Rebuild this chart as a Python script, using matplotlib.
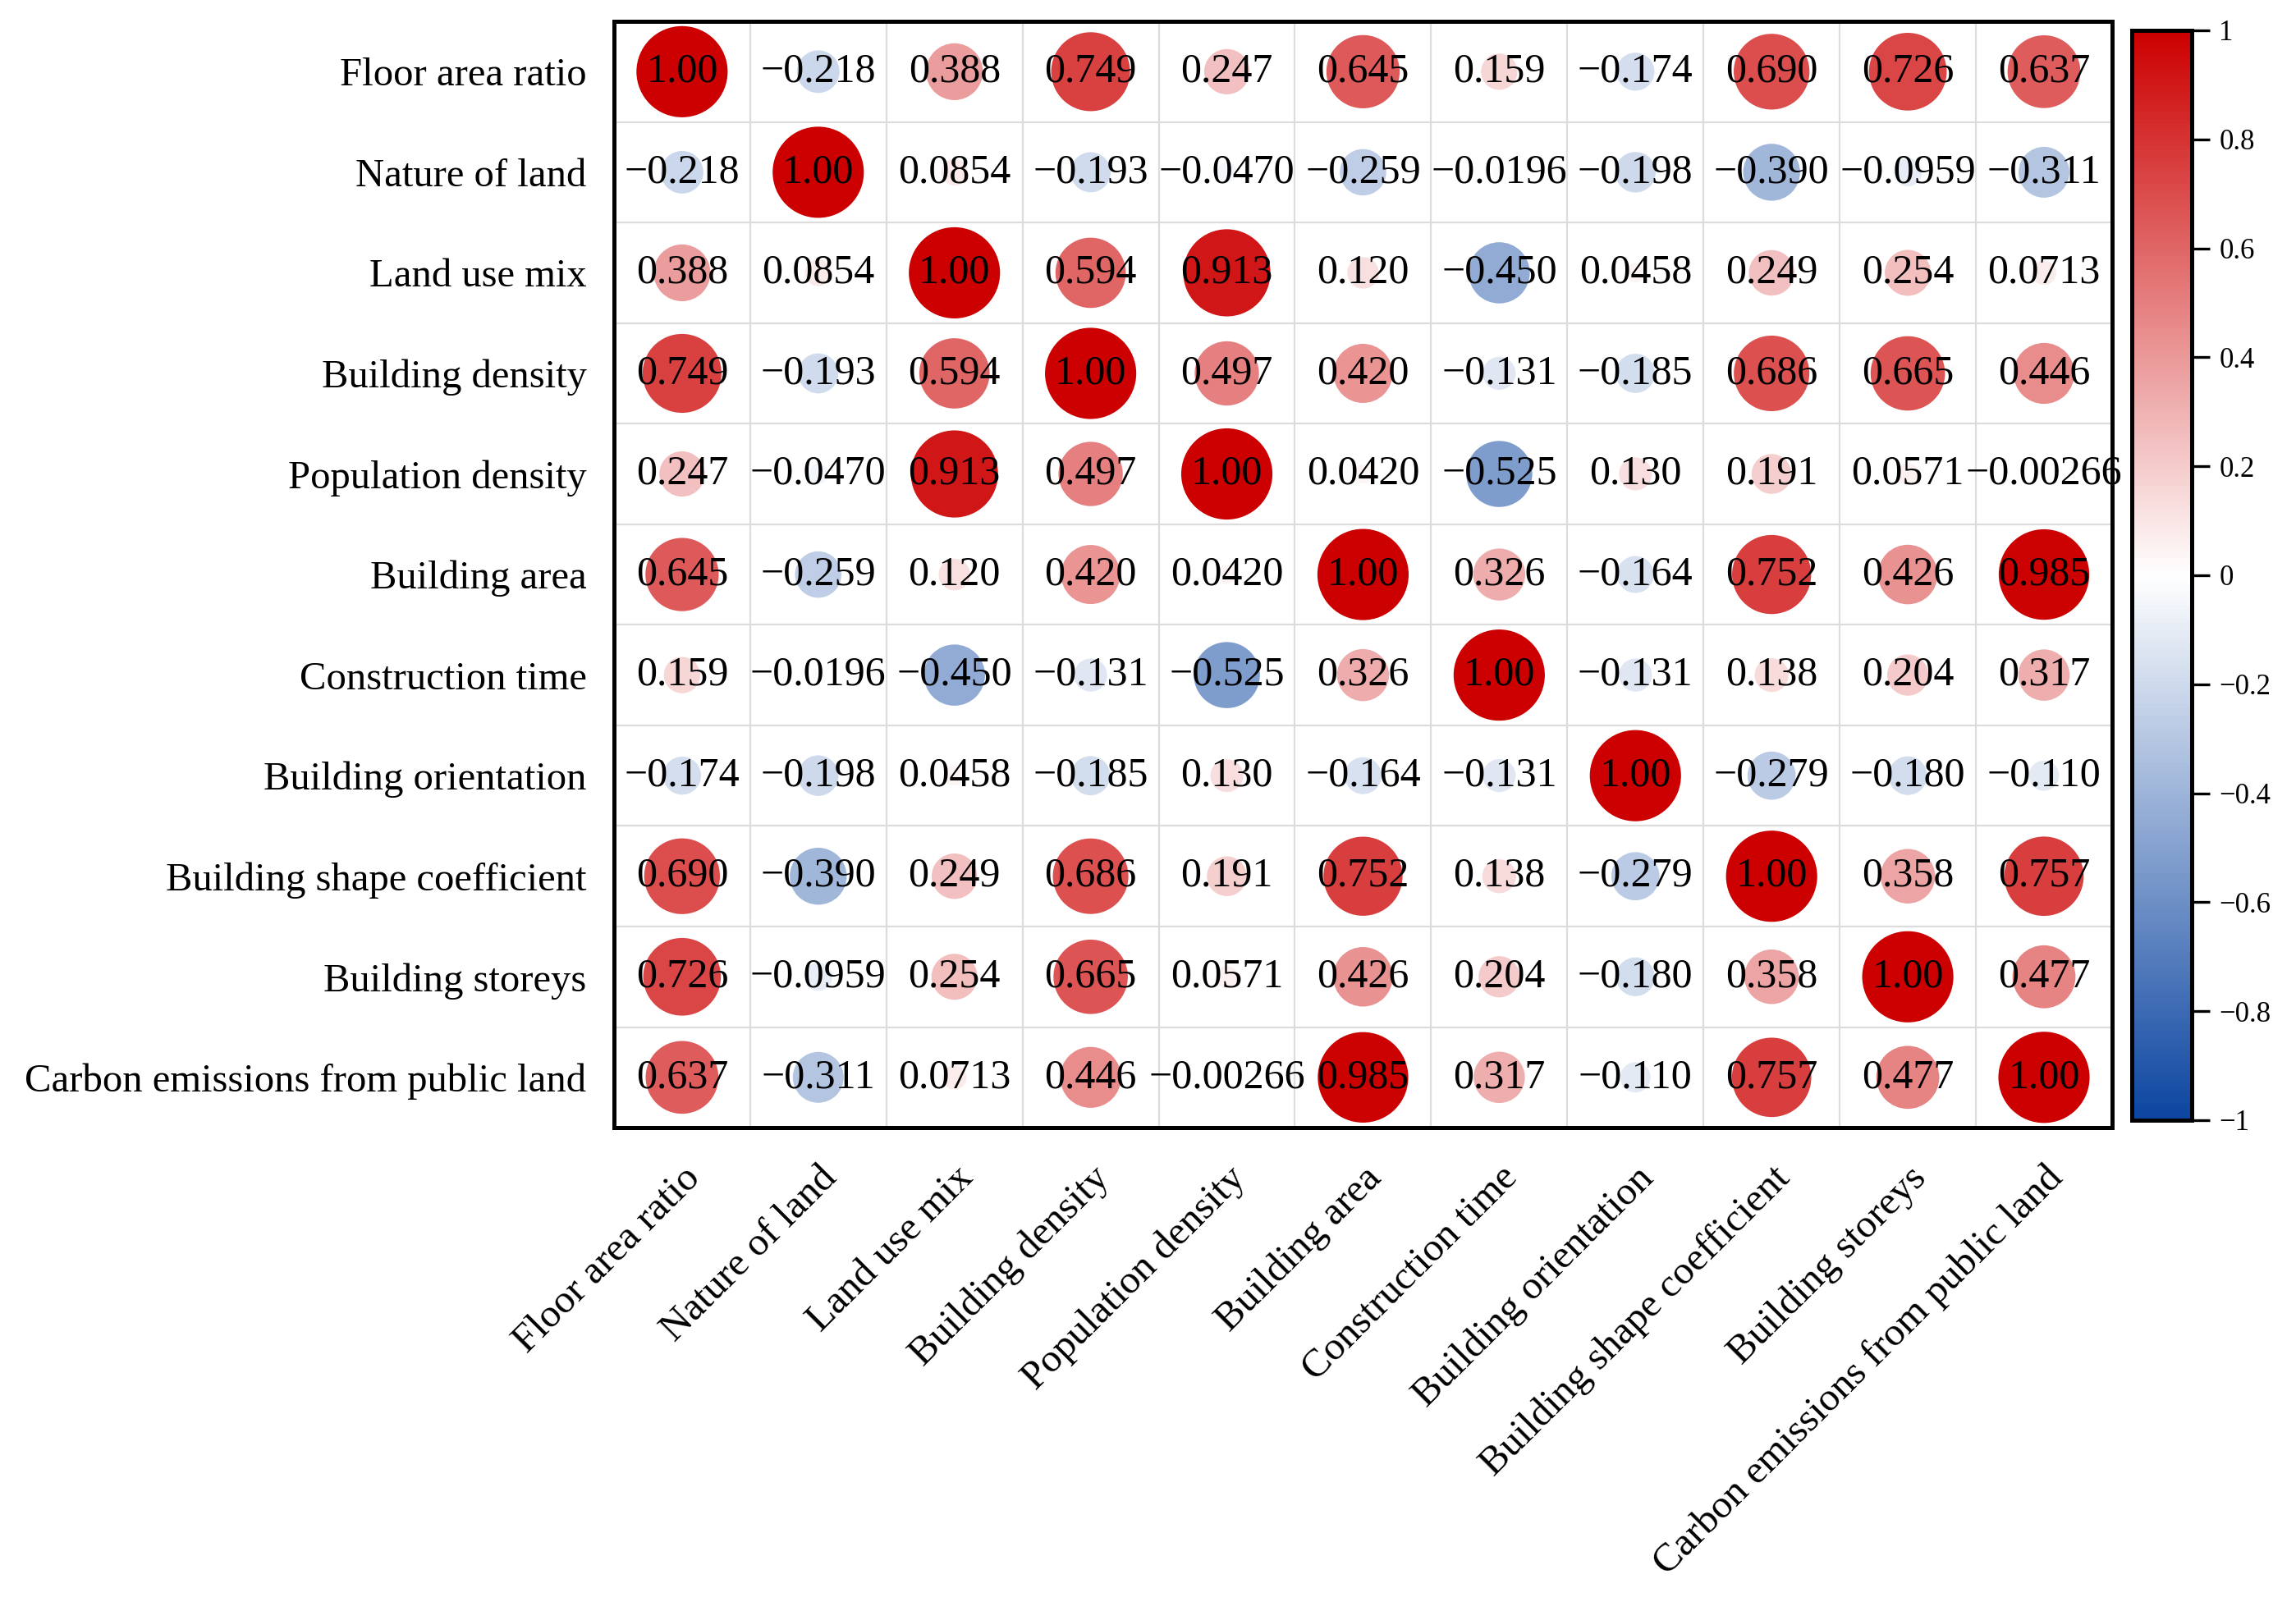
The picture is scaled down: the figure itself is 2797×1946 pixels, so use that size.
import numpy as np
import matplotlib
matplotlib.use("Agg")
import matplotlib.pyplot as plt
from matplotlib.colors import LinearSegmentedColormap, Normalize

plt.rcParams['font.family'] = ['Liberation Serif', 'DejaVu Serif']

labels = ['Floor area ratio', 'Nature of land', 'Land use mix', 'Building density',
          'Population density', 'Building area', 'Construction time',
          'Building orientation', 'Building shape coefficient', 'Building storeys',
          'Carbon emissions from public land']

corr = np.array([
    [1.00, -0.218, 0.388, 0.749, 0.247, 0.645, 0.159, -0.174, 0.690, 0.726, 0.637],
    [-0.218, 1.00, 0.0854, -0.193, -0.0470, -0.259, -0.0196, -0.198, -0.390, -0.0959, -0.311],
    [0.388, 0.0854, 1.00, 0.594, 0.913, 0.120, -0.450, 0.0458, 0.249, 0.254, 0.0713],
    [0.749, -0.193, 0.594, 1.00, 0.497, 0.420, -0.131, -0.185, 0.686, 0.665, 0.446],
    [0.247, -0.0470, 0.913, 0.497, 1.00, 0.0420, -0.525, 0.130, 0.191, 0.0571, -0.00266],
    [0.645, -0.259, 0.120, 0.420, 0.0420, 1.00, 0.326, -0.164, 0.752, 0.426, 0.985],
    [0.159, -0.0196, -0.450, -0.131, -0.525, 0.326, 1.00, -0.131, 0.138, 0.204, 0.317],
    [-0.174, -0.198, 0.0458, -0.185, 0.130, -0.164, -0.131, 1.00, -0.279, -0.180, -0.110],
    [0.690, -0.390, 0.249, 0.686, 0.191, 0.752, 0.138, -0.279, 1.00, 0.358, 0.757],
    [0.726, -0.0959, 0.254, 0.665, 0.0571, 0.426, 0.204, -0.180, 0.358, 1.00, 0.477],
    [0.637, -0.311, 0.0713, 0.446, -0.00266, 0.985, 0.317, -0.110, 0.757, 0.477, 1.00],
])

cbar_ticks = [-1, -0.8, -0.6, -0.4, -0.2, 0, 0.2, 0.4, 0.6, 0.8, 1]

cmap = LinearSegmentedColormap.from_list(
    'bwr_custom', ['#0c45a0', '#ffffff', '#cc0000'])
norm = Normalize(vmin=-1, vmax=1)

fig = plt.figure(figsize=(13.985, 9.73), dpi=200)
ax = fig.add_axes([0.2674, 0.2939, 0.6525, 0.6927])

n = len(labels)
xx, yy = np.meshgrid(np.arange(n), np.arange(n))
ax.scatter(xx.ravel(), yy.ravel(), s=1600 * np.abs(corr.ravel()),
           c=corr.ravel(), cmap=cmap, norm=norm, linewidths=0, zorder=2)

for i in range(n):
    for j in range(n):
        txt = '{:#.3g}'.format(corr[i, j]).replace('-', '\u2212')
        ax.text(j, i, txt, ha='center', va='center', fontsize=18, zorder=3)

# light grid between cells
for k in range(1, n):
    ax.axhline(k - 0.5, color='#dcdcdc', lw=0.8, zorder=1)
    ax.axvline(k - 0.5, color='#dcdcdc', lw=0.8, zorder=1)

ax.set_xlim(-0.5, n - 0.5)
ax.set_ylim(n - 0.5, -0.5)
ax.set_xticks(range(n))
ax.set_yticks(range(n))
ax.set_yticklabels(labels, fontsize=17.5)
ax.set_xticklabels(labels, fontsize=17.5, rotation=45, ha='right',
                   rotation_mode='anchor')
ax.tick_params(axis='y', length=0, pad=12)
ax.tick_params(axis='x', length=0, pad=14)
for sp in ax.spines.values():
    sp.set_linewidth(1.8)

cax = fig.add_axes([0.9285, 0.2986, 0.0261, 0.6824])
sm = plt.cm.ScalarMappable(cmap=cmap, norm=norm)
cb = fig.colorbar(sm, cax=cax, ticks=cbar_ticks)
cb.ax.set_yticklabels(['{:g}'.format(t).replace('-', '\u2212') for t in cbar_ticks],
                      fontsize=12.5)
cb.ax.tick_params(length=8, width=1.2, pad=4)
cb.outline.set_linewidth(1.8)

fig.savefig('out.png', dpi=200, facecolor='white')
